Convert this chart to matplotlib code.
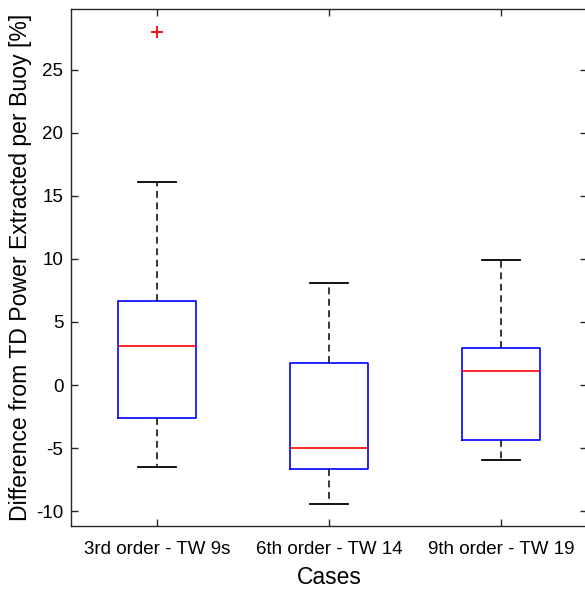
import matplotlib
matplotlib.use("Agg")
import matplotlib.pyplot as plt

plt.rcParams['font.family'] = ['Liberation Sans', 'DejaVu Sans']
plt.rcParams['axes.unicode_minus'] = False

# box statistics
cases = ["3rd order - TW 9s", "6th order - TW 14", "9th order - TW 19"]
medians = [3.1, -5.0, 1.14]
q1 = [-2.6, -6.65, -4.36]
q3 = [6.67, 1.78, 2.97]
whislo = [-6.5, -9.4, -5.98]
whishi = [16.05, 8.1, 9.88]
outliers = [[28.0], [], []]

stats = []
for i in range(len(cases)):
    stats.append({"med": medians[i], "q1": q1[i], "q3": q3[i],
                  "whislo": whislo[i], "whishi": whishi[i],
                  "fliers": outliers[i], "label": cases[i]})

grey = "#262626"
fig = plt.figure(figsize=(5.85, 5.89), dpi=100)
ax = fig.add_axes([71/585, 63.3/589, 516/585, 516.7/589])

ax.bxp(stats, positions=[1, 2, 3], widths=0.45, capwidths=0.22,
       boxprops=dict(color="blue", linewidth=1.2),
       medianprops=dict(color="red", linewidth=1.2),
       whiskerprops=dict(color="black", linestyle=(0, (4.5, 3)), linewidth=1.1),
       capprops=dict(color="black", linewidth=1.3),
       flierprops=dict(marker="+", markeredgecolor="red", markersize=8,
                       markeredgewidth=1.3, linestyle="none"))

ax.set_xlim(0.5, 3.5)
ax.set_ylim(-11.15, 29.8)
ax.set_yticks([-10, -5, 0, 5, 10, 15, 20, 25])
ax.set_xticks([1, 2, 3])
ax.set_xticklabels(cases)
ax.tick_params(direction="in", length=5, width=1.0, colors=grey,
               labelsize=13.5, top=True, right=True)
ax.tick_params(axis="x", labelcolor="black", pad=11)
ax.tick_params(axis="y", labelcolor="black", pad=5.5)
for s in ax.spines.values():
    s.set_color(grey)
    s.set_linewidth(1.0)

ax.set_xlabel("Cases", fontsize=16.5, labelpad=6)
ax.set_ylabel("Difference from TD Power Extracted per Buoy [%]", fontsize=16.6)
ax.yaxis.set_label_coords(-0.075, 0.5)

fig.savefig("out.png", dpi=100)
